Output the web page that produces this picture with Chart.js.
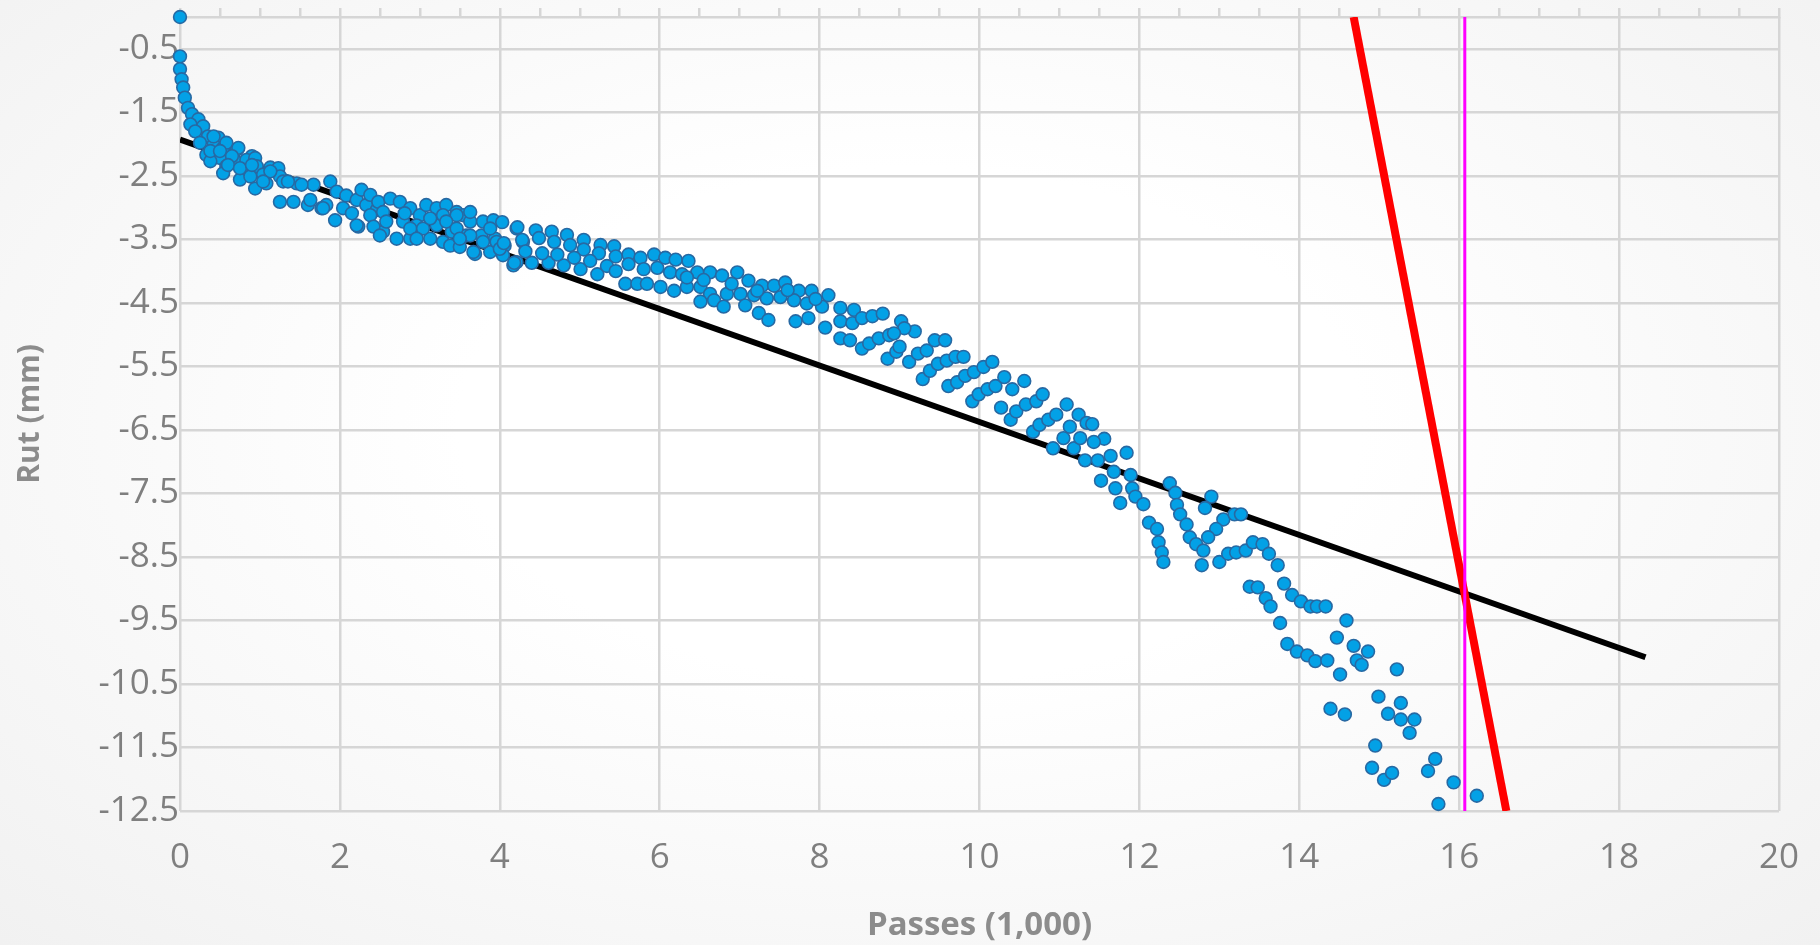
<!DOCTYPE html>
<html>
<head>
<meta charset="utf-8">
<script src="https://cdn.jsdelivr.net/npm/chart.js@4.4.1/dist/chart.umd.min.js"></script>
<style>
	html, body { margin: 0; padding: 0; overflow: hidden; }
	body {
		width: 1820px;
		height: 945px;
		background: radial-gradient(ellipse at 50% 45%, #ffffff 35%, #f1f1f1 100%);
	}
	canvas { display: block; }
</style>
</head>
<body>
<canvas id="rutChart" width="1820" height="945"></canvas>
<script>
const rutEarly = [
	[0,0],[0,-0.62],[0,-0.82],[0.02,-0.98],[0.04,-1.11],[0.06,-1.27],[0.10,-1.43],[0.15,-1.53],[0.23,-1.61],
	[0.13,-1.69],[0.29,-1.72],[0.19,-1.80],[0.35,-1.88],[0.48,-1.90],[0.25,-1.98],[0.42,-2.01],[0.54,-2.06],
	[0.71,-2.09],[0.90,-2.19],[0.33,-2.17],[0.50,-2.22],[0.69,-2.27],[0.83,-2.25],[0.94,-2.22],[0.38,-2.27],
	[0.58,-2.35],[0.77,-2.40],[0.96,-2.35],[1.13,-2.37],[1.23,-2.38],[0.54,-2.46],[0.75,-2.56],[0.88,-2.51],
	[1.04,-2.48],[1.25,-2.51],[0.94,-2.70],[1.08,-2.62],[1.29,-2.59],[1.46,-2.62],[1.67,-2.64],[1.88,-2.59],
	[1.25,-2.91],[1.42,-2.91],[1.60,-2.96],[1.77,-3.01],[1.94,-3.20],[1.96,-2.75],[2.08,-2.81],[2.21,-2.88],
	[2.33,-2.96],[2.46,-3.04],[2.04,-3.01],[2.15,-3.09],[2.23,-3.30],[2.27,-2.72],[2.38,-2.80],[2.48,-2.91],
	[2.54,-3.07],[2.54,-3.38],[2.63,-2.86],[2.75,-2.91],[2.88,-3.01],[3.00,-3.12],[2.96,-3.28],[2.88,-3.49],
	[3.08,-2.96],[3.21,-3.01],[3.33,-2.96],[3.46,-3.07],[3.54,-3.12],[3.63,-3.22],[3.79,-3.22],[3.92,-3.20],
	[3.13,-3.49],[3.29,-3.54],[3.38,-3.60],[3.50,-3.62],[3.69,-3.73],[3.88,-3.70],[3.21,-3.28],[3.40,-3.38],
	[3.58,-3.44],[3.77,-3.44],[3.94,-3.49],[4.06,-3.60],[4.04,-3.75],[4.17,-3.91],[4.21,-3.33],[4.29,-3.54],
	[0.42,-1.88],[0.58,-1.98],[0.73,-2.06],[0.38,-2.11],[0.50,-2.11],[0.65,-2.19],[0.60,-2.33],[0.75,-2.38],
	[0.90,-2.33],[1.13,-2.43],[1.04,-2.59],[1.35,-2.59],[1.52,-2.64],[1.63,-2.88],[1.83,-2.96],[1.79,-3.01],
	[2.21,-3.28],[2.38,-3.12],[2.42,-3.30],[2.58,-3.22],[2.79,-3.22],[2.88,-3.33],[3.04,-3.33],[2.81,-3.09],
	[3.13,-3.17],[3.29,-3.12],[3.46,-3.12],[3.63,-3.07],[3.33,-3.22],[3.46,-3.33],[3.63,-3.44],[3.79,-3.54],
	[3.96,-3.54],[2.71,-3.49],[2.50,-3.44],[2.96,-3.49],[3.50,-3.49],[3.67,-3.70],[4.00,-3.65],[3.88,-3.33],
	[4.21,-3.86]
];
const rutMid = [
	[4.03,-3.23],[4.22,-3.31],[4.45,-3.36],[4.65,-3.38],[4.84,-3.43],[5.05,-3.51],[5.26,-3.59],[5.43,-3.61],
	[5.61,-3.74],[5.76,-3.79],[5.93,-3.74],[6.07,-3.79],[6.20,-3.82],[6.36,-3.84],
	[4.05,-3.56],[4.28,-3.51],[4.49,-3.48],[4.68,-3.54],[4.88,-3.59],[5.05,-3.66],[5.24,-3.72],[5.45,-3.77],
	[5.61,-3.89],[5.80,-3.97],[5.97,-3.95],[6.13,-4.02],[6.28,-4.05],[6.47,-4.02],[6.63,-4.02],[6.78,-4.07],
	[6.97,-4.02],[7.11,-4.15],[7.28,-4.23],[7.43,-4.23],[7.57,-4.18],[7.74,-4.31],[7.90,-4.31],[8.11,-4.38],
	[4.18,-3.87],[4.40,-3.87],[4.61,-3.87],[4.80,-3.91],[5.01,-3.97],[5.22,-4.05],[5.57,-4.20],[5.72,-4.20],
	[5.84,-4.20],[6.01,-4.25],[6.18,-4.31],[6.34,-4.25],[6.51,-4.25],[6.63,-4.36],[6.84,-4.36],[7.01,-4.36],
	[7.18,-4.38],[7.34,-4.43],[7.51,-4.41],[7.68,-4.46],[7.84,-4.51],[8.03,-4.56],
	[6.51,-4.48],[6.68,-4.46],[6.80,-4.56],[7.07,-4.54],[7.24,-4.66],[7.36,-4.77],[7.70,-4.79],[7.86,-4.74],
	[8.07,-4.89],
	[4.32,-3.69],[4.53,-3.72],[4.72,-3.74],[4.93,-3.79],[5.13,-3.84],[5.34,-3.92],[5.45,-4.00],
	[6.34,-4.10],[6.55,-4.14],[6.90,-4.20],[7.22,-4.31],[7.60,-4.30],[7.95,-4.44]
];
const rutLate = [
	[8.26,-4.58],[8.43,-4.61],[8.26,-4.79],[8.41,-4.82],[8.53,-4.74],[8.66,-4.71],[8.79,-4.67],[8.26,-5.06],
	[8.38,-5.09],[8.53,-5.22],[8.62,-5.14],[8.74,-5.06],[8.87,-5.01],[9.02,-4.79],[9.19,-4.95],[9.06,-4.90],
	[8.93,-4.98],[8.85,-5.38],[8.96,-5.27],[9.00,-5.19],[9.12,-5.43],[9.23,-5.30],[9.34,-5.25],[9.44,-5.09],
	[9.57,-5.09],[9.29,-5.70],[9.38,-5.57],[9.48,-5.46],[9.59,-5.41],[9.70,-5.35],[9.80,-5.35],[9.61,-5.81],
	[9.72,-5.75],[9.82,-5.65],[9.93,-5.59],[10.05,-5.51],[10.16,-5.43],[9.91,-6.05],[9.99,-5.94],[10.10,-5.86],
	[10.20,-5.81],[10.31,-5.67],[10.41,-5.86],[10.56,-5.73],[10.27,-6.15],[10.39,-6.34],[10.46,-6.21],
	[10.58,-6.10],[10.71,-6.05],[10.79,-5.94],[10.67,-6.53],[10.75,-6.42],[10.86,-6.34],[10.96,-6.26],
	[11.09,-6.10],[11.13,-6.45],[11.24,-6.26],[11.34,-6.39],[10.92,-6.79],[11.05,-6.63],[11.18,-6.79],
	[11.26,-6.63],[11.32,-6.98]
];
const rutTail = [
	[11.41,-6.41],[11.56,-6.64],[11.43,-6.69],[11.48,-6.98],[11.64,-6.91],[11.84,-6.86],[11.68,-7.16],
	[11.89,-7.21],[11.52,-7.30],[11.70,-7.42],[11.91,-7.42],[11.76,-7.65],[11.95,-7.55],[12.05,-7.67],
	[12.38,-7.34],[12.45,-7.49],[12.47,-7.68],[12.51,-7.83],[12.59,-7.99],[12.63,-8.19],[12.71,-8.30],
	[12.80,-8.40],[12.78,-8.63],[12.12,-7.96],[12.22,-8.06],[12.24,-8.27],[12.28,-8.43],[12.30,-8.58],
	[12.90,-7.55],[12.82,-7.73],[13.05,-7.91],[12.96,-8.06],[12.86,-8.19],[13.19,-7.83],[13.27,-7.83],
	[13.00,-8.58],[13.11,-8.45],[13.21,-8.43],[13.33,-8.40],[13.42,-8.27],[13.54,-8.30],[13.62,-8.45],
	[13.73,-8.63],[13.38,-8.97],[13.48,-8.98],[13.58,-9.15],[13.64,-9.28],[13.81,-8.92],[13.91,-9.10],
	[14.02,-9.20],[14.14,-9.28],[14.22,-9.28],[14.33,-9.28],
	[13.76,-9.54],[14.59,-9.50],[14.47,-9.77],[13.85,-9.87],[13.97,-9.99],[14.10,-10.05],[14.20,-10.14],
	[14.35,-10.13],[14.51,-10.35],[14.68,-9.90],[14.86,-9.99],[14.72,-10.13],[14.78,-10.20],[15.22,-10.27],
	[14.99,-10.70],[15.27,-10.80],[15.11,-10.97],[15.27,-11.06],[15.44,-11.06],[15.38,-11.27],[14.39,-10.89],
	[14.57,-10.98],[14.95,-11.47],[14.91,-11.82],[15.06,-12.01],[15.16,-11.90],[15.70,-11.68],[15.61,-11.87],
	[15.93,-12.05],[15.74,-12.39],[16.22,-12.26]
];

// straight lines
const trendX = [0, 18.33];
const trendY = [-1.93, -10.08];
const failX = [14.68, 16.59];
const failY = [0, -12.5];
const markX = [16.07, 16.07];
const markY = [0, -12.5];

// axes
const xTicks = [0, 2, 4, 6, 8, 10, 12, 14, 16, 18, 20];
const yTicks = [-12.5, -11.5, -10.5, -9.5, -8.5, -7.5, -6.5, -5.5, -4.5, -3.5, -2.5, -1.5, -0.5];

function toPoints(xs, ys) {
	return xs.map((x, i) => ({ x: x, y: ys[i] }));
}

const rutPoints = [...rutEarly, ...rutMid, ...rutLate, ...rutTail].map(p => ({ x: p[0], y: p[1] }));

const gridColor = '#d6d6d6';
const labelFont = { family: 'Open Sans', size: 35 };

const ctx = document.getElementById('rutChart').getContext('2d');

new Chart(ctx, {
	type: 'scatter',
	data: {
		datasets: [
			{
				label: 'Trend',
				data: toPoints(trendX, trendY),
				showLine: true,
				borderColor: '#000000',
				borderWidth: 6,
				pointRadius: 0,
				pointHoverRadius: 0,
				order: 4,
			},
			{
				label: 'Rut',
				data: rutPoints,
				pointRadius: 6.4,
				pointHoverRadius: 6.4,
				pointBorderWidth: 1.6,
				backgroundColor: '#03a1e6',
				borderColor: '#2769a3',
				clip: false,
				order: 3,
			},
			{
				label: 'Failure',
				data: toPoints(failX, failY),
				showLine: true,
				borderColor: '#ff0000',
				borderWidth: 8,
				pointRadius: 0,
				pointHoverRadius: 0,
				clip: 0,
				order: 2,
			},
			{
				label: 'Marker',
				data: toPoints(markX, markY),
				showLine: true,
				borderColor: '#ff00ff',
				borderWidth: 3,
				pointRadius: 0,
				pointHoverRadius: 0,
				clip: 0,
				order: 1,
			},
		],
	},
	options: {
		responsive: false,
		animation: false,
		devicePixelRatio: 1,
		layout: { autoPadding: false, padding: { left: 0, right: 41, top: 0, bottom: 0 } },
		plugins: {
			legend: { display: false },
			tooltip: { enabled: false },
		},
		scales: {
			x: {
				type: 'linear',
				position: 'bottom',
				min: 0,
				max: 20,
				afterBuildTicks: scale => { scale.ticks = xTicks.map(v => ({ value: v })); },
				afterFit: scale => {
					scale.height = 134;
					scale.paddingLeft = 0;
					scale.paddingRight = 0;
				},
				grid: { color: gridColor, lineWidth: 2.5, drawTicks: false },
				border: { display: false },
				ticks: { color: '#7f7f7f', font: labelFont, padding: 26, maxRotation: 0 },
				title: {
					display: true,
					text: 'Passes (1,000)',
					color: '#8c8c8c',
					font: { family: 'Open Sans', size: 33, weight: 'bold' },
					padding: { top: 0, bottom: 0 },
				},
			},
			x2: {
				type: 'linear',
				position: 'top',
				min: 0,
				max: 20,
				afterBuildTicks: scale => {
					const t = [];
					for (let v = 0; v <= 20; v += 0.5) t.push({ value: v });
					scale.ticks = t;
				},
				afterFit: scale => {
					scale.height = 17;
					scale.paddingLeft = 0;
					scale.paddingRight = 0;
				},
				grid: { drawOnChartArea: false, color: gridColor, lineWidth: 2.5, tickLength: 9 },
				border: { display: true, color: gridColor, width: 2.5 },
				ticks: { display: false },
			},
			y: {
				type: 'linear',
				min: -12.5,
				max: 0,
				afterBuildTicks: scale => { scale.ticks = yTicks.map(v => ({ value: v })); },
				afterFit: scale => {
					scale.width = 180;
					scale.paddingTop = 0;
					scale.paddingBottom = 0;
				},
				grid: { color: gridColor, lineWidth: 2.5, drawTicks: false },
				border: { display: false },
				ticks: {
					color: '#7f7f7f',
					font: labelFont,
					padding: 1,
					callback: v => Number(v).toFixed(1),
				},
				title: {
					display: true,
					text: 'Rut (mm)',
					color: '#8c8c8c',
					font: { family: 'Open Sans', size: 30, weight: 'bold' },
					padding: { top: 12, bottom: 0 },
				},
			},
		},
	},
});
</script>
</body>
</html>
